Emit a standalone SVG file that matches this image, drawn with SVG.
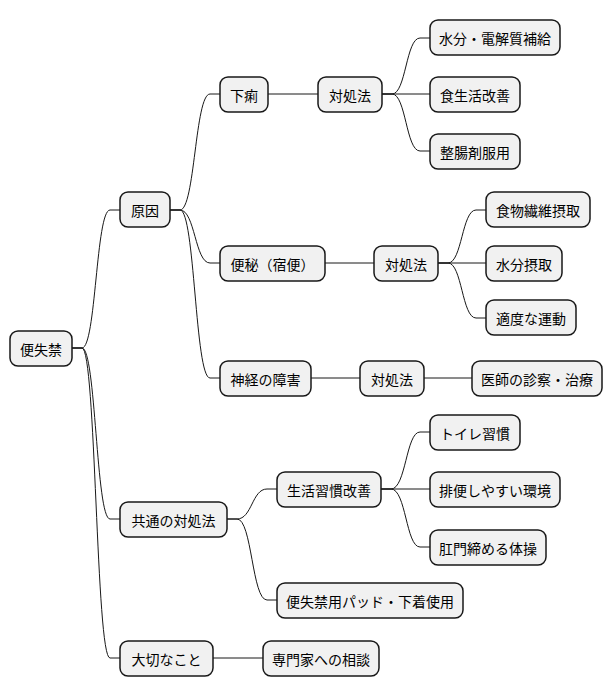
<svg xmlns="http://www.w3.org/2000/svg" width="614" height="696" viewBox="0 0 614 696">
<style>
.n rect{fill:#f1f1f1;stroke:#181818;stroke-width:1.5}
.n text{font-family:"Noto Sans CJK JP","Noto Sans",sans-serif;font-size:14px;fill:#000;text-anchor:middle;dominant-baseline:central}
#c path{fill:none;stroke:#181818;stroke-width:1}
</style>
<rect width="614" height="696" fill="#fff"/>
<g id="c">
<path d="M72 348 L82 348 C96 348 96 210 110 210 L120 210"/>
<path d="M72 348 L82 348 C96 348 96 519 110 519 L120 519"/>
<path d="M72 348 L82 348 C96 348 96 658 110 658 L120 658"/>
<path d="M170 210 L180 210 C195 210 195 94 210 94 L220 94"/>
<path d="M170 210 L180 210 C195 210 195 263 210 263 L220 263"/>
<path d="M170 210 L180 210 C195 210 195 378 210 378 L220 378"/>
<path d="M268 94 L318 94"/>
<path d="M325 263 L374 263"/>
<path d="M311 378 L360 378"/>
<path d="M382 94 L392 94 C406 94 406 38 420 38 L430 38"/>
<path d="M382 94 L430 94"/>
<path d="M382 94 L392 94 C406 94 406 151 420 151 L430 151"/>
<path d="M438 263 L448 263 C462 263 462 210 476 210 L486 210"/>
<path d="M438 263 L486 263"/>
<path d="M438 263 L448 263 C462 263 462 318 476 318 L486 318"/>
<path d="M424 378 L472 378"/>
<path d="M227 519 L237 519 C252 519 252 489 267 489 L277 489"/>
<path d="M227 519 L237 519 C252 519 252 600 267 600 L277 600"/>
<path d="M381 489 L391 489 C406 489 406 432 420 432 L430 432"/>
<path d="M381 489 L430 489"/>
<path d="M381 489 L391 489 C406 489 406 547 420 547 L430 547"/>
<path d="M213 658 L263 658"/>
</g>
<g id="n1" class="n"><rect x="10" y="331" width="62" height="35" rx="8"/><text x="41" y="348.5">便失禁</text></g>
<g id="n2" class="n"><rect x="120" y="192" width="50" height="35" rx="8"/><text x="145" y="209.5">原因</text></g>
<g id="n3" class="n"><rect x="120" y="502" width="107" height="35" rx="8"/><text x="173.5" y="519.5">共通の対処法</text></g>
<g id="n4" class="n"><rect x="120" y="641" width="93" height="35" rx="8"/><text x="166.5" y="658.5">大切なこと</text></g>
<g id="n5" class="n"><rect x="220" y="77" width="48" height="35" rx="8"/><text x="244" y="94.5">下痢</text></g>
<g id="n6" class="n"><rect x="220" y="246" width="105" height="35" rx="8"/><text x="272.5" y="263.5">便秘（宿便）</text></g>
<g id="n7" class="n"><rect x="220" y="361" width="91" height="35" rx="8"/><text x="265.5" y="378.5">神経の障害</text></g>
<g id="n8" class="n"><rect x="318" y="77" width="64" height="35" rx="8"/><text x="350" y="94.5">対処法</text></g>
<g id="n9" class="n"><rect x="374" y="246" width="64" height="35" rx="8"/><text x="406" y="263.5">対処法</text></g>
<g id="n10" class="n"><rect x="360" y="361" width="64" height="35" rx="8"/><text x="392" y="378.5">対処法</text></g>
<g id="n11" class="n"><rect x="430" y="20" width="130" height="35" rx="8"/><text x="495" y="37.5">水分・電解質補給</text></g>
<g id="n12" class="n"><rect x="430" y="77" width="90" height="35" rx="8"/><text x="475" y="94.5">食生活改善</text></g>
<g id="n13" class="n"><rect x="430" y="134" width="90" height="35" rx="8"/><text x="475" y="151.5">整腸剤服用</text></g>
<g id="n14" class="n"><rect x="486" y="192" width="104" height="35" rx="8"/><text x="538" y="209.5">食物繊維摂取</text></g>
<g id="n15" class="n"><rect x="486" y="246" width="76" height="35" rx="8"/><text x="524" y="263.5">水分摂取</text></g>
<g id="n16" class="n"><rect x="486" y="300" width="90" height="35" rx="8"/><text x="531" y="317.5">適度な運動</text></g>
<g id="n17" class="n"><rect x="472" y="361" width="130" height="35" rx="8"/><text x="537" y="378.5">医師の診察・治療</text></g>
<g id="n18" class="n"><rect x="277" y="472" width="104" height="35" rx="8"/><text x="329" y="489.5">生活習慣改善</text></g>
<g id="n19" class="n"><rect x="430" y="415" width="90" height="35" rx="8"/><text x="475" y="432.5">トイレ習慣</text></g>
<g id="n20" class="n"><rect x="430" y="472" width="130" height="35" rx="8"/><text x="495" y="489.5">排便しやすい環境</text></g>
<g id="n21" class="n"><rect x="430" y="530" width="116" height="35" rx="8"/><text x="488" y="547.5">肛門締める体操</text></g>
<g id="n22" class="n"><rect x="277" y="583" width="186" height="35" rx="8"/><text x="370" y="600.5">便失禁用パッド・下着使用</text></g>
<g id="n23" class="n"><rect x="263" y="641" width="116" height="35" rx="8"/><text x="321" y="658.5">専門家への相談</text></g>
</svg>
